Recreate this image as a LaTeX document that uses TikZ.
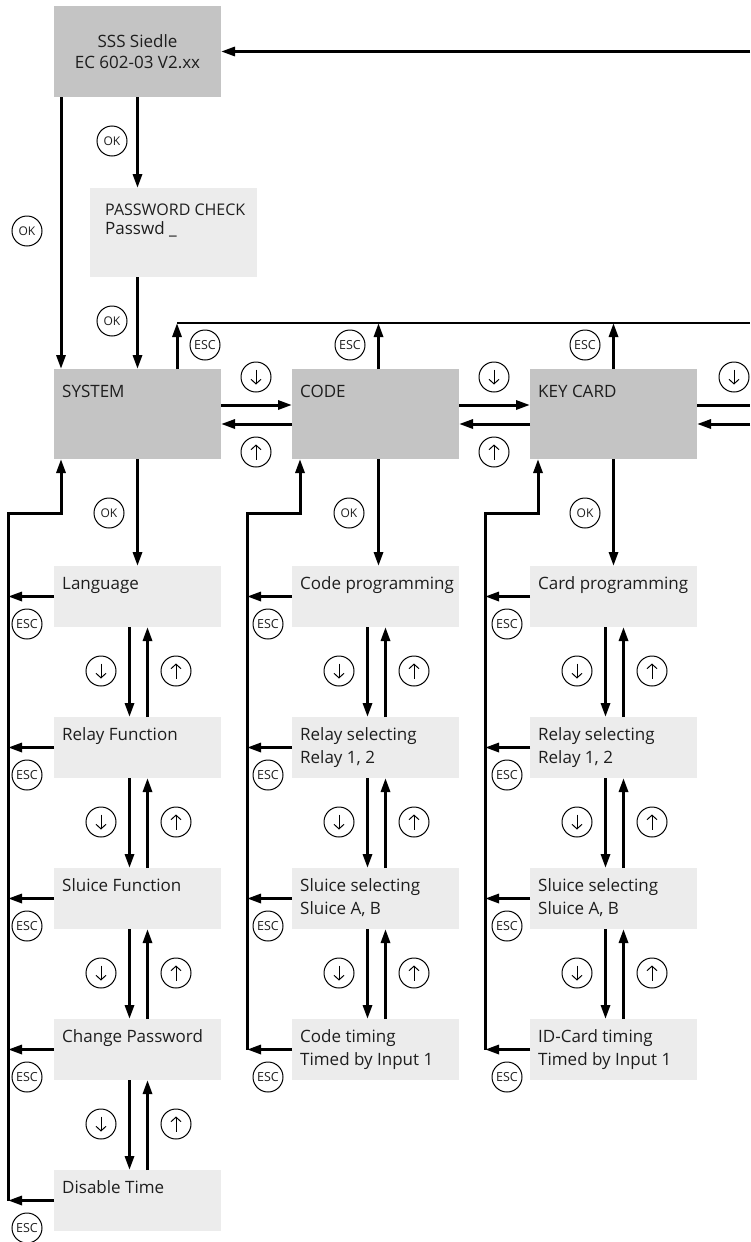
\documentclass[tikz,border=0pt]{standalone}
\usepackage{fontspec}
\setmainfont{Open Sans}
\usetikzlibrary{arrows.meta,calc}
\definecolor{dk}{HTML}{C4C4C4}
\definecolor{lt}{HTML}{ECECEC}
\definecolor{tx}{HTML}{1E1E1E}
\tikzset{
 dkbox/.style={fill=dk, draw=none, anchor=north west, minimum width=167pt, minimum height=90pt, inner sep=0pt, outer sep=0pt},
 ltbox/.style={fill=lt, draw=none, anchor=north west, minimum width=167pt, minimum height=61pt, inner sep=0pt, outer sep=0pt},
 txt/.style={anchor=base west, inner sep=0pt, text=tx, font=\fontsize{17}{20}\selectfont},
 arr/.style={line width=3pt, -{Triangle[length=14pt,width=9pt]}},
 ln/.style={line width=3pt},
 circ/.style={circle, draw, line width=1pt, minimum size=30pt, inner sep=0pt, text=tx},
 esc/.style={circ, font=\fontsize{12.5}{12.5}\selectfont},
 okc/.style={circ, font=\fontsize{12}{12}\selectfont},
 garr/.style={line width=1pt, -{Straight Barb[length=4.5pt,width=10pt]}}
}
\newcommand\circdn[2]{\node[circ] (#1) at (#2) {};
  \draw[garr] ([yshift=7.5pt]#1.center) -- ([yshift=-7.5pt]#1.center);}
\newcommand\circup[2]{\node[circ] (#1) at (#2) {};
  \draw[garr] ([yshift=-7.5pt]#1.center) -- ([yshift=7.5pt]#1.center);}
\newcommand\lineA[2]{\node[txt] at ([xshift=8pt,yshift=-23pt]#1.north west) {#2};}
\newcommand\lineB[2]{\node[txt] at ([xshift=8pt,yshift=-46pt]#1.north west) {#2};}
\newcommand\vpair[4]{% box1 box2 downcircle upcircle
  \draw[arr] ([xshift=-8pt]#1.south) -- ([xshift=-8pt]#2.north);
  \draw[arr] ([xshift=10pt]#2.north) -- ([xshift=10pt]#1.south);
  \circdn{#3}{$(#1.south)+(-36.5,44)$}
  \circup{#4}{$(#1.south)+(38.5,44)$}}
\begin{document}
\begin{tikzpicture}[x=1pt,y=-1pt]
\useasboundingbox (0,0) rectangle (750,1242);
% top boxes
\node[dkbox, minimum height=91pt] (top) at (54,6) {};
\node[txt, anchor=base] (t1) at (137.5,47) {SSS Siedle};
\node[txt, anchor=base] (t2) at (137.5,68) {EC 602-03 V2.xx};
\node[ltbox, minimum height=89pt] (pwd) at (90,188) {};
\node[txt, font=\fontsize{16}{19}\selectfont] (p1) at (105,215) {PASSWORD CHECK};
\node[txt] (p2) at (105,234) {Passwd \_};
\node[dkbox] (sys) at (54,369) {};
\node[dkbox] (code) at (292,369) {};
\node[dkbox] (key) at (530,369) {};
\node[txt] at (62,397) {SYSTEM};
\node[txt] at (300,397) {CODE};
\node[txt] at (538,397) {KEY CARD};
% sub boxes
\node[ltbox] (s1) at (54,566) {};
\node[ltbox] (s2) at (54,717) {};
\node[ltbox] (s3) at (54,868) {};
\node[ltbox] (s4) at (54,1019) {};
\node[ltbox] (s5) at (54,1170) {};
\node[ltbox] (c1) at (292,566) {};
\node[ltbox] (c2) at (292,717) {};
\node[ltbox] (c3) at (292,868) {};
\node[ltbox] (c4) at (292,1019) {};
\node[ltbox] (k1) at (530,566) {};
\node[ltbox] (k2) at (530,717) {};
\node[ltbox] (k3) at (530,868) {};
\node[ltbox] (k4) at (530,1019) {};
\lineA{s1}{Language}
\lineA{s2}{Relay Function}
\lineA{s3}{Sluice Function}
\lineA{s4}{Change Password}
\lineA{s5}{Disable Time}
\lineA{c1}{Code programming}
\lineA{c2}{Relay selecting}\lineB{c2}{Relay 1, 2}
\lineA{c3}{Sluice selecting}\lineB{c3}{Sluice A, B}
\lineA{c4}{Code timing}\lineB{c4}{Timed by Input 1}
\lineA{k1}{Card programming}
\lineA{k2}{Relay selecting}\lineB{k2}{Relay 1, 2}
\lineA{k3}{Sluice selecting}\lineB{k3}{Sluice A, B}
\lineA{k4}{ID-Card timing}\lineB{k4}{Timed by Input 1}
% top connections
\coordinate (ret) at (750,51.5);
\draw[arr] (ret) -- (top.east);
\draw[arr] ([xshift=7pt]top.south west) -- ([xshift=7pt]sys.north west);
\node[okc] (ok1) at (27,231) {OK};
\draw[arr] (top.south) -- (top.south |- pwd.north);
\node[okc] (ok2) at (112,141) {OK};
\draw[arr] (top.south |- pwd.south) -- (sys.north);
\node[okc] (ok3) at (112,321) {OK};
% ESC line on top
\coordinate (escEnd) at (750,323);
\draw[line width=2.5pt] ([xshift=123pt]sys.north west |- escEnd) -- (escEnd);
\draw[arr] ([xshift=123pt]sys.north west) -- ([xshift=123pt]sys.north west |- escEnd);
\draw[arr] ([xshift=3pt]code.north) -- ([xshift=3pt]code.north |- escEnd);
\draw[arr] (key.north) -- (key.north |- escEnd);
\node[esc] (e1) at (205,345) {ESC};
\node[esc] (e2) at (350,345) {ESC};
\node[esc] (e3) at (585,345) {ESC};
% horizontal between top-level boxes
\draw[arr] ([yshift=9pt]sys.east) -- ([yshift=9pt]code.west);
\draw[arr] ([yshift=-10pt]code.west) -- ([yshift=-10pt]sys.east);
\draw[arr] ([yshift=9pt]code.east) -- ([yshift=9pt]key.west);
\draw[arr] ([yshift=-10pt]key.west) -- ([yshift=-10pt]code.east);
\coordinate (rOut) at (750,405);
\coordinate (rIn) at (750,424);
\draw[ln] ([yshift=9pt]key.east) -- (rOut);
\draw[arr] (rIn) -- ([yshift=-10pt]key.east);
\circdn{h1}{256,377}
\circup{h2}{256,452}
\circdn{h3}{494,377}
\circup{h4}{494,452}
\circdn{h5}{734,377}
% OK down to sub boxes
\draw[arr] (sys.south) -- (s1.north);
\draw[arr] ([xshift=3pt]code.south) -- ([xshift=3pt]code.south |- c1.north);
\draw[arr] (key.south) -- (k1.north);
\node[okc] (ok4) at (109,513) {OK};
\node[okc] (ok5) at (349,513) {OK};
\node[okc] (ok6) at (585,513) {OK};
% vertical pairs
\vpair{s1}{s2}{a1}{b1}
\vpair{s2}{s3}{a2}{b2}
\vpair{s3}{s4}{a3}{b3}
\vpair{s4}{s5}{a4}{b4}
\vpair{c1}{c2}{a5}{b5}
\vpair{c2}{c3}{a6}{b6}
\vpair{c3}{c4}{a7}{b7}
\vpair{k1}{k2}{a8}{b8}
\vpair{k2}{k3}{a9}{b9}
\vpair{k3}{k4}{a10}{b10}
% return lines
\coordinate (sT) at (8,513);
\coordinate (cT) at (247,513);
\coordinate (kT) at (485,513);
\draw[arr] (s5.west -| sT) -- (sT) -| ([xshift=7pt]sys.south west);
\draw[arr] (c4.west -| cT) -- (cT) -| ([xshift=8pt]code.south west);
\draw[arr] (k4.west -| kT) -- (kT) -| ([xshift=8pt]key.south west);
\foreach \b in {s1,s2,s3,s4,s5}{\draw[arr] (\b.west) -- (\b.west -| sT);}
\foreach \b in {c1,c2,c3,c4}{\draw[arr] (\b.west) -- (\b.west -| cT);}
\foreach \b in {k1,k2,k3,k4}{\draw[arr] (\b.west) -- (\b.west -| kT);}
\foreach \b/\i in {s1/1,s2/2,s3/3,s4/4,s5/5}{\node[esc] (es\i) at ($(\b.north west)+(-27,58)$) {ESC};}
\foreach \b/\i in {c1/1,c2/2,c3/3,c4/4}{\node[esc] (ec\i) at ($(\b.north west)+(-24,58)$) {ESC};}
\foreach \b/\i in {k1/1,k2/2,k3/3,k4/4}{\node[esc] (ek\i) at ($(\b.north west)+(-23,58)$) {ESC};}
\end{tikzpicture}
\end{document}
